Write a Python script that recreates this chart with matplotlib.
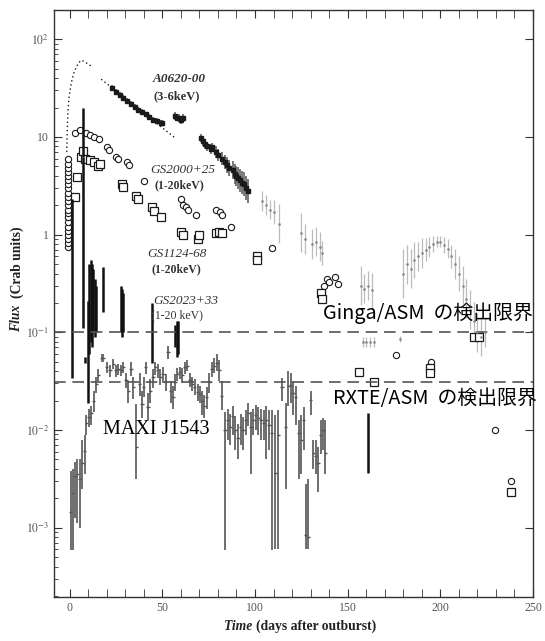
import matplotlib.pyplot as plt
from matplotlib.ticker import MultipleLocator, FixedLocator, LogLocator, NullFormatter
import numpy as np

plt.rcParams['mathtext.fontset'] = 'stix'

# ---- data ----
# A0620-00 (3-6 keV)
a0620_rise_day = [-1.6, -1.4, -1.2, -0.9, -0.3, 0.9, 2.2, 3.6, 5.0, 6.3, 8.0, 9.8, 11.7]
a0620_rise_flux = [7, 10, 14, 19, 26, 36, 45, 52, 58, 61, 59, 56, 53]
a0620_fit_day = [17, 56.5]
a0620_fit_flux = [39, 9.9]
a0620_day = [23, 25, 27, 29, 31, 33, 35, 37, 39, 41, 43, 45, 47, 49, 50,
             57, 58, 59, 60, 61,
             71, 72, 73, 74, 76, 77, 79, 80, 82, 84, 85, 86, 88, 89, 90, 91, 92, 93, 94, 95, 96]
a0620_flux = [32, 29, 27, 25, 23.5, 22, 20.5, 19, 18, 17, 16, 15, 14.5, 14, 13.8,
              16.5, 15.8, 15.5, 15, 15.5,
              9.8, 9, 8.5, 8, 7.5, 7.8, 7, 6.5, 6, 5.5, 5.2, 4.8, 4.6, 4.2, 4.0, 3.8, 3.6, 3.4, 3.3, 3.0, 2.8]
a0620_err = [0.03] * 15 + [0.04] * 5 + [0.04, 0.05, 0.05, 0.05, 0.05, 0.05, 0.06, 0.06, 0.07, 0.07, 0.08,
                                        0.08, 0.09, 0.1, 0.1, 0.11, 0.12, 0.12, 0.12, 0.12, 0.12]
late_day = [104, 106, 108, 110, 113, 125, 127, 131, 133, 135, 136, 157, 159, 161, 163,
            180, 182, 184, 186, 188, 190, 192, 194, 196, 198, 200, 202, 204, 206, 208, 210,
            212, 214, 216, 218, 220, 222, 224, 158, 160, 162, 164, 178]
late_flux = [2.2, 2.0, 1.8, 1.7, 1.3, 1.05, 0.9, 0.8, 0.85, 0.75, 0.65, 0.3, 0.28, 0.3, 0.27,
             0.4, 0.5, 0.45, 0.55, 0.6, 0.65, 0.7, 0.75, 0.8, 0.85, 0.85, 0.78, 0.72, 0.6, 0.5, 0.4,
             0.3, 0.22, 0.17, 0.13, 0.1, 0.09, 0.1, 0.08, 0.08, 0.08, 0.08, 0.085]
late_err = [0.1, 0.1, 0.1, 0.12, 0.2, 0.2, 0.15, 0.15, 0.15, 0.15, 0.12, 0.2, 0.15, 0.15, 0.18,
            0.25, 0.2, 0.2, 0.18, 0.15, 0.15, 0.12, 0.1, 0.08, 0.06, 0.06, 0.08, 0.1, 0.12, 0.15, 0.18,
            0.2, 0.2, 0.2, 0.2, 0.2, 0.2, 0.15, 0.05, 0.05, 0.05, 0.05, 0.03]

# GS2000+25 (1-20 keV) circles
gs2000_day = [-1] * 22 + [2.7, 5.4, 9, 11, 13, 16, 20, 21, 25, 26, 31, 32, 40, 60, 61, 63, 64, 68,
                          79, 81, 82, 87, 109, 137, 139, 140, 143, 145, 176, 195, 229.6, 238]
gs2000_flux = [0.75, 0.82, 0.9, 1.0, 1.1, 1.2, 1.35, 1.5, 1.65, 1.8, 2.0, 2.2, 2.45, 2.7, 3.0,
               3.3, 3.6, 4.0, 4.4, 4.8, 5.3, 5.9,
               11, 11.9, 11, 10.5, 10, 9.5, 7.8, 7.3, 6.3, 6.0, 5.5, 5.2, 3.5, 2.3, 2.0, 1.9, 1.8, 1.6,
               1.8, 1.7, 1.6, 1.2, 0.73, 0.3, 0.35, 0.33, 0.37, 0.31, 0.059, 0.05, 0.01, 0.003]

# GS1124-68 (1-20 keV) squares
gs1124_day = [2.7, 3.8, 6, 7, 8.5, 11, 13, 15, 16.5, 28, 28.5, 36, 37, 44.6, 45.5, 49.5, 60, 61,
              69, 70, 79, 80.6, 82, 101, 101, 135.5, 136, 156, 164, 194.6, 194.6, 218, 221, 238]
gs1124_flux = [2.45, 3.9, 6.3, 7.2, 6.0, 5.8, 5.5, 5.0, 5.3, 3.3, 3.1, 2.5, 2.3, 1.9, 1.75, 1.5,
               1.07, 1.0, 0.9, 0.98, 1.05, 1.07, 1.05, 0.6, 0.55, 0.25, 0.22, 0.039, 0.031,
               0.043, 0.038, 0.09, 0.09, 0.0023]

# GS2023+33 (1-20 keV) black bars
gs2023_day = [1, 7, 7.3, 8.5, 9.7, 10.5, 11.3, 12, 12.8, 13.5, 14.3, 18, 27.5, 28, 28.6,
              44.6, 57, 57.7, 58.4, 161]
gs2023_lo = [0.034, 6.3, 0.11, 0.048, 0.019, 0.06, 0.08, 0.07, 0.1, 0.09, 0.1, 0.16, 0.1, 0.09, 0.1,
             0.049, 0.07, 0.056, 0.06, 0.0036]
gs2023_hi = [2.3, 20, 6.3, 0.056, 0.21, 0.5, 0.55, 0.5, 0.45, 0.35, 0.3, 0.47, 0.3, 0.28, 0.25,
             0.2, 0.12, 0.13, 0.13, 0.015]

# MAXI J1543 (log10 flux: centre, lower, upper)
maxi_day = [0.5, 1.6, 2.9, 4.2, 5.4, 6.8, 8.1, 9.0, 10.4, 11.7, 13.0, 14.4, 15.5, 17.2, 18.0,
            20.0, 21.7, 23.5, 25.0, 26.3, 27.6, 29.0, 30.4, 31.7, 33.0, 34.4, 35.9, 37.7, 39.0,
            39.9, 41.0, 42.3, 43.5, 45.0, 46.2, 47.5, 48.9, 50.4, 51.8, 53.0, 54.4, 55.7, 56.8,
            58.0, 59.4, 60.8, 62.0, 63.5, 64.9, 66.2, 67.5, 69.0, 70.2, 71.5, 72.6, 73.9, 75.3,
            76.8, 78.0, 79.5, 80.8, 82.0, 83.8, 85.3, 86.7, 88.0, 89.4, 90.8, 92.3, 93.5, 95.0,
            96.3, 97.8, 99.0, 100.4, 101.8, 103.3, 104.6, 106.0, 107.5, 109.0, 111.0, 112.5,
            114.6, 116.5, 118.0, 119.2, 120.5, 122.0, 123.7, 125.0, 126.3, 127.3, 128.7, 130.0,
            131.5, 132.7, 134.0, 135.5, 136.7, 138.0]
maxi_log = [-2.84, -2.64, -2.47, -2.45, -2.5, -2.34, -2.22, -1.93, -1.87, -1.83, -1.7, -1.53, -1.44,
            -1.26, -1.26, -1.36, -1.39, -1.32, -1.39, -1.375, -1.39, -1.36, -1.49, -1.6, -1.375,
            -1.56, -2.17, -1.53, -1.73, -1.56, -1.36, -1.76, -1.6, -1.46, -1.36, -1.39, -1.46,
            -1.43, -1.51, -1.2, -1.6, -1.66, -1.51, -1.43, -1.41, -1.44, -1.36, -1.34, -1.49,
            -1.53, -1.56, -1.61, -1.63, -1.7, -1.75, -1.66, -1.51, -1.375, -1.34, -1.31, -1.39,
            -1.65, -2.0, -1.9, -1.97, -1.86, -2.0, -2.08, -1.97, -2.0, -1.9, -1.83, -1.97, -1.9,
            -1.85, -1.88, -1.9, -1.93, -1.9, -1.95, -2.03, -2.44, -2.05, -1.56, -1.97, -1.55,
            -1.54, -1.62, -1.66, -2.03, -2.1, -1.9, -3.08, -3.1, -1.69, -2.24, -2.27, -2.34,
            -2.05, -2.0, -2.24]
maxi_log_lo = [-3.23, -3.23, -2.9, -2.95, -3.0, -2.6, -2.45, -2.05, -1.97, -1.95, -1.82, -1.62, -1.5,
               -1.3, -1.3, -1.42, -1.46, -1.38, -1.46, -1.44, -1.45, -1.42, -1.57, -1.72, -1.45,
               -1.68, -2.5, -1.65, -1.88, -1.66, -1.43, -1.9, -1.72, -1.57, -1.44, -1.47, -1.54,
               -1.52, -1.6, -1.27, -1.72, -1.78, -1.6, -1.5, -1.48, -1.52, -1.43, -1.4, -1.56,
               -1.6, -1.64, -1.7, -1.72, -1.85, -1.88, -1.78, -1.62, -1.46, -1.42, -1.4, -1.5,
               -1.8, -3.23, -2.1, -2.15, -2.05, -2.2, -2.3, -2.15, -2.2, -2.05, -1.96, -2.45, -2.05,
               -2.0, -2.05, -2.1, -2.1, -2.3, -2.2, -3.23, -3.22, -3.22, -1.7, -2.6, -1.75,
               -1.72, -1.85, -1.95, -2.5, -2.45, -2.2, -3.22, -3.22, -1.85, -2.4, -2.45, -2.63,
               -2.25, -2.2, -2.45]
maxi_log_hi = [-2.42, -2.4, -2.33, -2.3, -2.3, -2.1, -2.05, -1.85, -1.78, -1.75, -1.6, -1.46, -1.38,
               -1.22, -1.22, -1.3, -1.33, -1.27, -1.33, -1.32, -1.33, -1.3, -1.42, -1.5, -1.3,
               -1.46, -1.73, -1.42, -1.6, -1.46, -1.3, -1.62, -1.48, -1.38, -1.3, -1.32, -1.38,
               -1.36, -1.43, -1.14, -1.5, -1.55, -1.43, -1.37, -1.35, -1.37, -1.3, -1.28, -1.42,
               -1.46, -1.48, -1.53, -1.55, -1.6, -1.64, -1.56, -1.42, -1.3, -1.26, -1.22, -1.28,
               -1.5, -1.82, -1.78, -1.84, -1.75, -1.86, -1.94, -1.84, -1.87, -1.8, -1.72, -1.82, -1.78,
               -1.74, -1.76, -1.78, -1.8, -1.75, -1.8, -1.8, -1.85, -1.8, -1.47, -1.72, -1.4,
               -1.42, -1.5, -1.55, -1.9, -1.85, -1.76, -2.55, -2.5, -1.6, -2.1, -2.1, -2.17,
               -1.9, -1.88, -1.9]

ginga_limit = 0.1
rxte_limit = 0.031

# ---- figure ----
fig = plt.figure(figsize=(5.45, 6.41), dpi=100)
ax = fig.add_axes([0.099, 0.0686, 0.879, 0.916])
ax.set_yscale('log')
ax.set_xlim(-8.5, 250)
ax.set_ylim(1.95e-4, 200)

ink = '#1a1a1a'

# A0620-00
ax.plot(a0620_rise_day, a0620_rise_flux, ls=(0, (1, 2)), color=ink, lw=1)
ax.plot(a0620_fit_day, a0620_fit_flux, ls=(0, (1, 2)), color=ink, lw=1)
f = np.array(a0620_flux)
e = np.array(a0620_err)
ax.errorbar(a0620_day, f, yerr=[f - f / 10**e, f * 10**e - f], fmt='s', ms=2.2,
            color=ink, ecolor='#555', elinewidth=1.1)
f = np.array(late_flux)
e = np.array(late_err)
ax.errorbar(late_day, f, yerr=[f - f / 10**e, f * 10**e - f], fmt='.', ms=1.8,
            color='#888', ecolor='#bbbbbb', elinewidth=0.9)

# GS2000+25, GS1124-68
ax.plot(gs2000_day, gs2000_flux, 'o', ms=4.5, mfc='white', mec=ink, mew=0.8)
ax.plot(gs1124_day, gs1124_flux, 's', ms=5.5, mfc='white', mec=ink, mew=0.9)

# GS2023+33
ax.vlines(gs2023_day, gs2023_lo, gs2023_hi, color='#111', lw=1.8)

# MAXI J1543
c = 10**np.array(maxi_log)
lo = 10**np.array(maxi_log_lo)
hi = 10**np.array(maxi_log_hi)
ax.errorbar(maxi_day, c, yerr=[c - lo, hi - c], fmt='none', ecolor='#6e6e6e', elinewidth=1.4)
ax.errorbar(maxi_day, c, xerr=0.9, fmt='none', ecolor='#555', elinewidth=1)

# detection limits
ax.axhline(ginga_limit, color='#555', lw=1.2, dashes=(7, 4))
ax.axhline(rxte_limit, color='#555', lw=1.2, dashes=(7, 4))

# labels in the plot
serif = 'Liberation Serif'
tc = '#333'
ax.text(59, 39, 'A0620-00', ha='center', va='center', family=serif, style='italic',
        weight='bold', size=9.5, color=tc)
ax.text(57.5, 26, '(3-6keV)', ha='center', va='center', family=serif, weight='bold', size=9, color=tc)
ax.text(61, 4.6, 'GS2000+25', ha='center', va='center', family=serif, style='italic', size=9.5, color=tc)
ax.text(59, 3.2, '(1-20keV)', ha='center', va='center', family=serif, weight='bold', size=8.5, color=tc)
ax.text(58, 0.64, 'GS1124-68', ha='center', va='center', family=serif, style='italic', size=9.5, color=tc)
ax.text(57.5, 0.44, '(1-20keV)', ha='center', va='center', family=serif, weight='bold', size=8.5, color=tc)
ax.text(62.4, 0.21, 'GS2023+33', ha='center', va='center', family=serif, style='italic', size=9.5, color=tc)
ax.text(58, 0.15, '(1-20 keV)', ha='center', va='center', family=serif, size=8.5, color=tc)
ax.text(17.7, 0.0102, 'MAXI J1543', ha='left', va='center', family=serif, size=14.5, color='black')

jp = ['Noto Sans CJK JP', 'DejaVu Sans']
ax.text(1.0, 0.158, 'Ginga/ASM  の検出限界', transform=ax.get_yaxis_transform(), ha='right',
        va='center', family=jp, size=14.3, color='black')
ax.text(1.008, 0.021, 'RXTE/ASM  の検出限界', transform=ax.get_yaxis_transform(), ha='right',
        va='center', family=jp, size=14.3, color='black')

# axes styling
for s in ax.spines.values():
    s.set_color('#333')
    s.set_linewidth(1)
ax.xaxis.set_major_locator(MultipleLocator(50))
ax.xaxis.set_minor_locator(MultipleLocator(10))
ax.yaxis.set_major_locator(FixedLocator([1e-3, 1e-2, 1e-1, 1, 10, 100]))
ax.yaxis.set_minor_locator(LogLocator(base=10, subs=np.arange(2, 10)))
ax.yaxis.set_minor_formatter(NullFormatter())
ax.set_yticklabels([r'$10^{-3}$', r'$10^{-2}$', r'$10^{-1}$', '1', '10', r'$10^{2}$'])
ax.tick_params(which='both', direction='in', top=True, right=True, colors='#333',
               labelcolor='#555', labelsize=8.5)
ax.tick_params(which='major', length=6)
ax.tick_params(axis='x', which='minor', length=6)
ax.tick_params(axis='y', which='minor', length=3, right=False)
for lab in ax.get_xticklabels() + ax.get_yticklabels():
    lab.set_family(serif)

fig.text(0.462, 0.012, 'Time', ha='right', va='bottom', family=serif, style='italic',
         weight='bold', size=9.8, color='#222')
fig.text(0.47, 0.012, '(days after outburst)', ha='left', va='bottom', family=serif,
         weight='bold', size=9.8, color='#222')
fig.text(0.031, 0.482, 'Flux', ha='center', va='bottom', rotation=90, family=serif,
         style='italic', weight='bold', size=9.8, color='#222')
fig.text(0.031, 0.535, '(Crab units)', ha='center', va='bottom', rotation=90, family=serif,
         weight='bold', size=9.8, color='#222')

fig.savefig('out.png', dpi=100)
